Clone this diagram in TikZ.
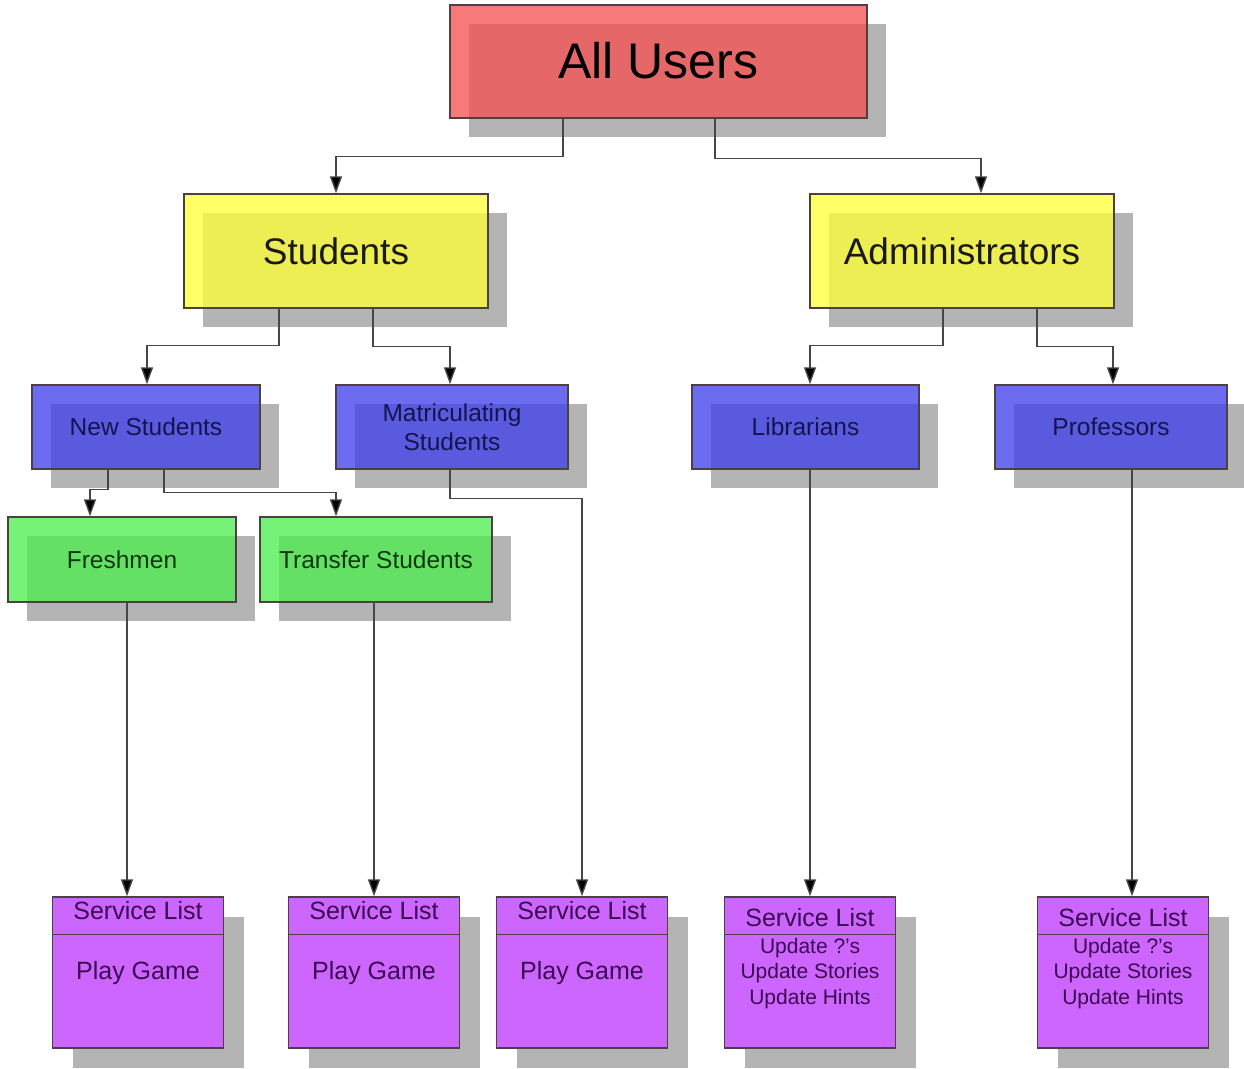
\documentclass[tikz,border=0pt]{standalone}
\usepackage{fontspec}
\setmainfont{Liberation Sans}
\usetikzlibrary{arrows.meta,shadows}

\definecolor{shadowgray}{RGB}{180,180,180}
\definecolor{redfill}{RGB}{246,80,80}
\definecolor{yellowfill}{RGB}{255,255,55}
\definecolor{bluefill}{RGB}{62,62,236}
\definecolor{greenfill}{RGB}{75,240,75}
\definecolor{purplefill}{RGB}{204,102,255}
\definecolor{edgecol}{RGB}{75,65,65}
\definecolor{linecol}{RGB}{70,70,70}
\definecolor{navytext}{RGB}{20,20,80}
\definecolor{greentext}{RGB}{15,55,15}
\definecolor{purpletext}{RGB}{60,10,80}

\tikzset{
  x=1pt, y=-1pt,
  box/.style={draw=edgecol, line width=1.4pt, rectangle, inner sep=0pt,
    fill opacity=0.76, text opacity=1,
    drop shadow={shadow xshift=19pt, shadow yshift=-19pt, opacity=1, fill=shadowgray}},
  topbox/.style={box, fill=redfill, minimum width=417pt, minimum height=113pt,
    font=\fontsize{50}{56}\selectfont, text=black},
  midbox/.style={box, fill=yellowfill, minimum width=304pt, minimum height=114pt,
    font=\fontsize{37}{42}\selectfont, text=black!90},
  groupbox/.style={box, fill=bluefill, minimum width=230pt, minimum height=84pt,
    font=\fontsize{24.5}{29}\selectfont, text=navytext, align=center},
  leafbox/.style={box, fill=greenfill, minimum width=230pt, minimum height=85pt,
    font=\fontsize{24.5}{29}\selectfont, text=greentext},
  slbox/.style={draw=edgecol, line width=1.4pt, rectangle, inner sep=0pt,
    fill=purplefill, minimum width=171pt, minimum height=151pt,
    drop shadow={shadow xshift=20pt, shadow yshift=-20pt, opacity=1, fill=shadowgray}},
  sltitle/.style={inner sep=0pt, text=purpletext, font=\fontsize{25}{28}\selectfont},
  slitem/.style={inner sep=0pt, text=purpletext, font=\fontsize{25}{28}\selectfont},
  slitems/.style={inner sep=0pt, text=purpletext, align=center,
    font=\fontsize{21}{25.5}\selectfont},
  conn/.style={draw=linecol, line width=1.4pt,
    -{Triangle[length=17pt,width=12pt,fill=black]}},
  sep/.style={draw=edgecol, line width=1.4pt},
}

\begin{document}
\begin{tikzpicture}
\useasboundingbox[fill=white] (0,0) rectangle (1244,1068);

% hierarchy boxes
\node[topbox]   (allusers) at (658.5,61.5) {\raisebox{2pt}{All Users}};
\node[midbox]   (students) at (336,251) {Students};
\node[midbox]   (admins)   at (962,251) {Administrators};
\node[groupbox, minimum width=228pt] (newst)  at (146,427)   {New Students};
\node[groupbox, minimum width=232pt] (matric) at (452,427)   {Matriculating\\Students};
\node[groupbox, minimum width=227pt] (libr)   at (805.5,427) {Librarians};
\node[groupbox, minimum width=232pt] (prof)   at (1111,427)  {Professors};
\node[leafbox, minimum width=228pt]  (fresh)    at (122,559.5) {Freshmen};
\node[leafbox, minimum width=232pt]  (transfer) at (376,559.5) {Transfer Students};

% service lists
\node[slbox] (sla) at (138,972.5) {};
\node[slbox] (slb) at (374,972.5) {};
\node[slbox] (slc) at (582,972.5) {};
\node[slbox] (sld) at (810,972.5) {};
\node[slbox] (sle) at (1123,972.5) {};
\foreach \s in {sla,slb,slc,sld,sle}
  \draw[sep] ([yshift=-38pt]\s.north west) -- ([yshift=-38pt]\s.north east);

\node[sltitle] (slaT) at ([yshift=-14pt]sla.north) {Service List};
\node[sltitle] (slbT) at ([yshift=-14pt]slb.north) {Service List};
\node[sltitle] (slcT) at ([yshift=-14pt]slc.north) {Service List};
\node[sltitle] (sldT) at ([yshift=-21pt]sld.north) {Service List};
\node[sltitle] (sleT) at ([yshift=-21pt]sle.north) {Service List};

\node[slitem] (slaB) at ([yshift=-77pt]sla.north) {Play Game};
\node[slitem] (slbB) at ([yshift=-77pt]slb.north) {Play Game};
\node[slitem] (slcB) at ([yshift=-77pt]slc.north) {Play Game};
\node[slitems] (sldB) at ([yshift=-77pt]sld.north) {Update ?'s\\Update Stories\\Update Hints};
\node[slitems] (sleB) at ([yshift=-77pt]sle.north) {Update ?'s\\Update Stories\\Update Hints};

% connectors
\draw[conn] ([xshift=-95.5pt]allusers.south) -- ++(0,38) -| (students.north);
\draw[conn] ([xshift=56.5pt]allusers.south) -- ++(0,40) -| ([xshift=19pt]admins.north);
\draw[conn] ([xshift=-57pt]students.south) -- ++(0,37) -| ([xshift=1pt]newst.north);
\draw[conn] ([xshift=37pt]students.south) -- ++(0,38) -| ([xshift=-2pt]matric.north);
\draw[conn] ([xshift=-19pt]admins.south) -- ++(0,37) -| ([xshift=4.5pt]libr.north);
\draw[conn] ([xshift=75pt]admins.south) -- ++(0,38) -| ([xshift=2pt]prof.north);
\draw[conn] ([xshift=-38pt]newst.south) -- ++(0,20) -| ([xshift=-32pt]fresh.north);
\draw[conn] ([xshift=18pt]newst.south) -- ++(0,23) -| ([xshift=-40pt]transfer.north);
\draw[conn] ([xshift=5pt]fresh.south) -- ([xshift=5pt]fresh.south |- sla.north);
\draw[conn] (transfer.south -| slb.north) -- (slb.north);
\draw[conn] ([xshift=-2pt]matric.south) -- ++(0,29) -| (slc.north);
\draw[conn] (sld.north |- libr.south) -- (sld.north);
\draw[conn] ([xshift=21pt]prof.south) -- ([xshift=21pt]prof.south |- sle.north);
\end{tikzpicture}
\end{document}
